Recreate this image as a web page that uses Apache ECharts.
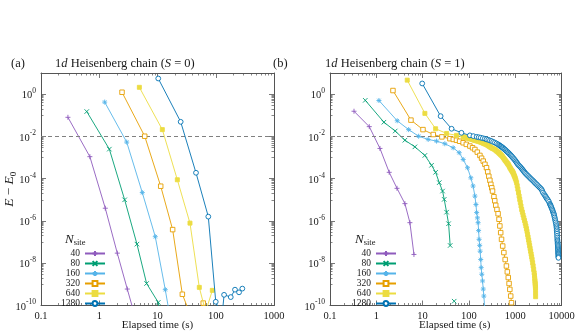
<!DOCTYPE html>
<html>
<head>
<meta charset="utf-8">
<script src="https://cdn.jsdelivr.net/npm/echarts@6/dist/echarts.min.js"></script>
<style>
html, body { margin: 0; background: #fff; }
#chart { width: 581px; height: 335px; }
</style>
</head>
<body>
<div id="chart"></div>
<script>
// system sizes shown in the legend
const nSites = ['40', '80', '160', '320', '640', '1280'];

// tick labels
const xTicksA = [0.1, 1, 10, 100, 1000];
const xTicksB = [0.1, 1, 10, 100, 1000, 10000];
const yTicks = [1e-10, 1e-8, 1e-6, 1e-4, 1e-2, 1];

// (a) S = 0 : elapsed time (s) and energy error
const tA40 = [0.29, 0.69, 1.27, 2.04, 3.03, 4.0];
const eA40 = [8e-2, 1.1e-3, 4e-6, 3e-8, 6e-10, 4e-11];
const tA80 = [0.61, 1.49, 2.73, 4.44, 6.5, 10.3, 12];
const eA80 = [1.5e-1, 2.5e-3, 1e-5, 8e-8, 1.1e-9, 1.4e-10, 1e-11];
const tA160 = [1.24, 2.96, 5.48, 9.16, 13.6, 17.5];
const eA160 = [4.2e-1, 5.4e-3, 2.2e-5, 1.8e-7, 5.6e-10, 1e-11];
const tA320 = [2.46, 6.03, 11.35, 18.2, 26.7, 40, 61];
const eA320 = [1.23, 1.02e-2, 4.4e-5, 3.9e-7, 3.4e-10, 2e-11, 1.3e-10];
const tA640 = [4.88, 12.1, 21.9, 36.1, 52.2, 67, 87.3];
const eA640 = [2.1, 2.1e-2, 8.9e-5, 7.9e-7, 7.2e-10, 5e-11, 5.2e-10];
const tA1280 = [10.3, 25, 45.8, 74.5, 100, 128, 139, 181, 214, 251, 286];
const eA1280 = [5.5, 4.9e-2, 1.9e-4, 1.6e-6, 1.5e-10, 3e-11, 3.2e-10, 2.5e-10, 5.6e-10, 4.2e-10, 6.3e-10];

// (b) S = 1
const tB40 = [0.33, 0.705, 1.2, 1.9, 2.8, 4.15, 5.32, 6.5];
const eB40 = [1.55e-1, 2.9e-2, 2.7e-3, 2e-4, 3.5e-5, 6.6e-6, 8.3e-7, 2.6e-8];
const tB80 = [0.578, 1.46, 2.56, 4.15, 6.82, 11.2, 15.6, 19.1, 22.9, 27.0, 29.3, 33.0, 36.4, 39.4, null, 48.1];
const eB80 = [0.51, 4.7e-2, 1.8e-2, 6.6e-3, 3.2e-3, 1.26e-3, 4.3e-4, 2.0e-4, 6.5e-5, 2.6e-5, 1.05e-5, 2.6e-6, 7.4e-7, 6.9e-8, null, 1.6e-10];
const tB160 = [1.14, 2.83, 4.99, 8.2, 13.2, 20, 30.2, 45.7, 61.7, 75.3, 93.3, 110, 123, 135, 142,
  147, 153, 158, 162, 166, 171, 175, 180, 184, 190, 197, 204, 210, 225];
const eB160 = [0.50, 5.5e-2, 2.1e-2, 1.02e-2, 7.2e-3, 6.0e-3, 4.5e-3, 2.9e-3, 1.7e-3, 8.1e-4, 3.3e-4, 1.1e-4, 4.5e-5, 1.5e-5, 6e-6,
  2.5e-6, 1.4e-6, 8.3e-7, 3.5e-7, 1.35e-7, 7e-8, 3.7e-8, 1.5e-8, 6.2e-9, 3e-9, 1.45e-9, 6e-10, 2.8e-10, 4e-11];
const tB320 = [2.29, 5.6, 10.2, 17, 26.1, 38.9, 46, 54, 63, 75, 88, 105, 120, 135, 152, 173, 188, 204, 222, 240, 255,
  269, 284, 298, 312, 324, 347, 362, 380, 403, 427, 447, 466, 486, 507, 537, 569, 607, 646, 676, 708, 737, 766, 800, 832];
const eB320 = [1.48, 5.9e-2, 2.1e-2, 1.23e-2, 9.5e-3, 7.8e-3, 7.2e-3, 6.6e-3, 5.9e-3, 5.0e-3, 4.2e-3, 3.5e-3, 2.9e-3, 2.4e-3, 1.8e-3, 1.26e-3, 9.3e-4, 6.8e-4, 4.8e-4, 3.3e-4, 2.1e-4,
  1.3e-4, 8.4e-5, 5.4e-5, 3.7e-5, 2.6e-5, 1.4e-5, 9e-6, 5.5e-6, 3.5e-6, 2.2e-6, 1.2e-6, 5.8e-7, 2.8e-7, 1.35e-7, 6.5e-8, 3.2e-8, 1.5e-8, 7.4e-9, 3.9e-9, 2.1e-9, 1.1e-9, 5.8e-10, 2.8e-10, 1.35e-10];
const tB640 = [4.66, 11.2, 19.1, 33, 54, 75, 80, 85, 90, 95, 100, 105, 111, 118, 125, 132, 139, 146, 153, 160,
  169, 178, 188, 198, 208, 218, 229, 240, 252, 265, 278, 292, 308, 325, 344, 363, 381, 400, 420, 440,
  457, 475, 490, 507, 533, 560, 585, 610, 635, 660, 684, 708, 734, 760, 787, 815, 842, 870, 891, 912,
  936, 960, 985, 1010, 1040, 1072, 1105, 1140, 1178, 1216, 1252, 1290, 1334, 1380, 1430, 1480, 1535, 1590, 1645, 1700,
  1750, 1800, 1850, 1900, 1950, 1995, 2050, 2100, 2155, 2210, 2265, 2320, 2380, 2440, 2505, 2570, 2610, 2640, 2670, 2690,
  2710, 2730, 2740, 2750, 2755, 2760];
const eB640 = [4.6, 0.123, 2.3e-2, 1.38e-2, 1.12e-2, 9.5e-3, 9.2e-3, 8.9e-3, 8.6e-3, 8.3e-3, 8.0e-3, 7.8e-3, 7.5e-3, 7.2e-3, 6.9e-3, 6.6e-3, 6.4e-3, 6.2e-3, 6.05e-3, 5.9e-3,
  5.65e-3, 5.4e-3, 5.15e-3, 4.9e-3, 4.7e-3, 4.5e-3, 4.3e-3, 4.1e-3, 3.85e-3, 3.6e-3, 3.35e-3, 3.1e-3, 2.9e-3, 2.7e-3, 2.55e-3, 2.4e-3, 2.2e-3, 2.0e-3, 1.85e-3, 1.7e-3,
  1.57e-3, 1.45e-3, 1.35e-3, 1.26e-3, 1.1e-3, 9.5e-4, 8.3e-4, 7.3e-4, 6.5e-4, 5.8e-4, 5.2e-4, 4.7e-4, 4.1e-4, 3.5e-4, 3.1e-4, 2.7e-4, 2.45e-4, 2.2e-4, 2.0e-4, 1.8e-4,
  1.55e-4, 1.35e-4, 1.17e-4, 1.0e-4, 8.2e-5, 6.5e-5, 4.6e-5, 3.2e-5, 2.2e-5, 1.5e-5, 1.05e-5, 7.5e-6, 5.1e-6, 3.5e-6, 2.6e-6, 1.9e-6, 1.4e-6, 1.05e-6, 7.8e-7, 5.8e-7,
  4.3e-7, 3.2e-7, 2.3e-7, 1.7e-7, 1.25e-7, 9.3e-8, 6.8e-8, 5.0e-8, 3.7e-8, 2.7e-8, 2.0e-8, 1.5e-8, 1.05e-8, 7.5e-9, 5.1e-9, 3.5e-9, 2.6e-9, 1.9e-9, 1.5e-9, 1.2e-9,
  1e-9, 8e-10, 7e-10, 6.3e-10, 4e-10, 2.6e-10];
const tB1280 = [9.8, 24.5, 42.3, 69, 105, 125, 147, 163, 180, 200, 221, 240, 262, 285, 309, 335, 365, 395, 427, 450,
  470, 490, 510, 530, 550, 575, 598, 625, 650, 680, 710, 740, 770, 800, 832, 870, 910, 950, 990, 1030,
  1070, 1110, 1148, 1200, 1260, 1320, 1380, 1440, 1500, 1560, 1622, 1710, 1800, 1900, 2000, 2100, 2200, 2330, 2455, 2580,
  2700, 2850, 3000, 3170, 3350, 3530, 3715, 3850, 3981, 4200, 4400, 4570, 4742, 4950, 5150, 5370, 5585, 5720, 5850, 6000,
  6150, 6300, 6450, 6600, 6761, 6880, 7000, 7120, 7250, 7380, 7500, 7630, 7762, 7810, 7860, 7900, 7950, 8000, 8040, 8085,
  8128, 8175, 8220, 8260, 8300, 8335, 8370, 8400, 8433, 8455, 8480, 8500, 8520, 8540, 8560, 8575, 8590];
const eB1280 = [3.2, 9.1e-2, 2.3e-2, 1.48e-2, 1.12e-2, 1.03e-2, 9.5e-3, 9.1e-3, 8.7e-3, 8.2e-3, 7.8e-3, 7.3e-3, 6.9e-3, 6.4e-3, 6.0e-3, 5.5e-3, 5.1e-3, 4.6e-3, 4.2e-3, 3.9e-3,
  3.6e-3, 3.4e-3, 3.2e-3, 3.0e-3, 2.8e-3, 2.6e-3, 2.4e-3, 2.2e-3, 2.0e-3, 1.85e-3, 1.7e-3, 1.55e-3, 1.4e-3, 1.28e-3, 1.17e-3, 1.05e-3, 9.3e-4, 8.4e-4, 7.5e-4, 6.6e-4,
  5.9e-4, 5.3e-4, 4.7e-4, 4.2e-4, 3.8e-4, 3.4e-4, 3.0e-4, 2.7e-4, 2.4e-4, 2.15e-4, 1.9e-4, 1.7e-4, 1.5e-4, 1.35e-4, 1.2e-4, 1.08e-4, 9.7e-5, 8.7e-5, 7.8e-5, 7.0e-5,
  6.2e-5, 5.6e-5, 5.0e-5, 4.4e-5, 3.9e-5, 3.5e-5, 3.1e-5, 2.6e-5, 2.2e-5, 1.85e-5, 1.6e-5, 1.4e-5, 1.2e-5, 1.07e-5, 9.5e-6, 8e-6, 6.5e-6, 5.8e-6, 5.2e-6, 4.6e-6,
  4e-6, 3.5e-6, 3e-6, 2.6e-6, 2.3e-6, 2e-6, 1.7e-6, 1.45e-6, 1.2e-6, 1e-6, 8.5e-7, 7e-7, 5.8e-7, 5e-7, 4.2e-7, 3.6e-7, 3e-7, 2.5e-7, 2e-7, 1.65e-7,
  1.35e-7, 1.15e-7, 1e-7, 8.7e-8, 7.5e-8, 6.6e-8, 5.8e-8, 5.1e-8, 4.5e-8, 4e-8, 3.5e-8, 3.1e-8, 2.8e-8, 2.5e-8, 2.2e-8, 2e-8, 1.8e-8];

const threshold = 1e-2;

const FONT = 'Liberation Serif';
const INK = '#1a1a1a';
const FRAME = '#555';
const colors = ['#8f5bbd', '#009e73', '#56b4e9', '#e69f00', '#ecdc42', '#0072b2'];
// +, x, *, open square, filled square, open circle
const symbols = [
  'path://M5 0L5 10M0 5L10 5',
  'path://M0 0L10 10M10 0L0 10',
  'path://M5 0L5 10M0 5L10 5M1.5 1.5L8.5 8.5M8.5 1.5L1.5 8.5',
  'path://M0 0L10 0L10 10L0 10Z',
  'rect',
  'path://M5 0A5 5 0 1 1 4.99 0Z'
];
const symbolSizes = [5, 4.5, 5, 4.5, 4, 4.8];
const hollow = [false, false, false, true, false, true];

function pts(t, e) {
  return t.map((x, i) => x == null ? ['-', '-'] : [x, e[i]]);
}

function minorX(major, max) {
  const out = [];
  major.forEach(d => { for (let k = 2; k <= 9; k++) if (k * d < max) out.push(k * d); });
  return out;
}
function minorY(major) {
  const out = [];
  major.forEach(d => { if (d > 1e-10) for (let k = 1; k <= 9; k++) out.push(k * d / 10); });
  return out;
}

function expLabel(v) {
  const e = Math.round(Math.log10(v));
  return '{b|10}{e|' + (e < 0 ? '-' : '') + Math.abs(e) + '}';
}

function logAxis(o) {
  return Object.assign({
    type: 'log', logBase: 10,
    splitLine: { show: false },
    minorTick: { show: false },
    axisLine: { show: true, onZero: false, lineStyle: { color: FRAME, width: 1 } },
    axisTick: { show: true, inside: true, length: 5, lineStyle: { color: FRAME, width: 0.8 } },
    axisLabel: { show: false }
  }, o);
}
function minorAxis(o, vals) {
  return logAxis(Object.assign({
    axisLine: { show: false },
    axisTick: { show: true, inside: true, length: 2.5, customValues: vals, lineStyle: { color: FRAME, width: 0.7 } }
  }, o));
}

const xLabelStyle = { show: true, margin: 5, fontFamily: FONT, fontSize: 10.5, color: INK,
  formatter: v => String(+v.toPrecision(2)) };
const yLabelStyle = { show: true, margin: 5, customValues: yTicks, formatter: expLabel,
  rich: {
    b: { fontFamily: FONT, fontSize: 10.5, color: INK, lineHeight: 14, verticalAlign: 'bottom' },
    e: { fontFamily: FONT, fontSize: 7.5, color: INK, lineHeight: 8, verticalAlign: 'top' }
  } };
const xName = {
  name: 'Elapsed time (s)', nameLocation: 'middle', nameGap: 14, nameMoveOverlap: false,
  nameTextStyle: { fontFamily: FONT, fontSize: 11, color: INK }
};

const gridA = { left: 41, right: 307, top: 73, bottom: 29.5, outerBoundsMode: 'none', containLabel: false };
const gridB = { left: 330, right: 19.5, top: 73, bottom: 29.5, outerBoundsMode: 'none', containLabel: false };

const xAxis = [
  logAxis(Object.assign({ gridIndex: 0, position: 'bottom', min: 0.1, max: 1000,
    axisTick: { show: true, inside: true, length: 5, customValues: xTicksA, lineStyle: { color: FRAME, width: 0.8 } },
    axisLabel: Object.assign({ customValues: xTicksA }, xLabelStyle) }, xName)),
  logAxis({ gridIndex: 0, position: 'top', min: 0.1, max: 1000,
    axisTick: { show: true, inside: true, length: 5, customValues: xTicksA, lineStyle: { color: FRAME, width: 0.8 } } }),
  logAxis(Object.assign({ gridIndex: 1, position: 'bottom', min: 0.1, max: 10000,
    axisTick: { show: true, inside: true, length: 5, customValues: xTicksB, lineStyle: { color: FRAME, width: 0.8 } },
    axisLabel: Object.assign({ customValues: xTicksB }, xLabelStyle) }, xName,
    { nameTextStyle: { fontFamily: FONT, fontSize: 11, color: INK, padding: [0, 0, 0, 18] } })),
  logAxis({ gridIndex: 1, position: 'top', min: 0.1, max: 10000,
    axisTick: { show: true, inside: true, length: 5, customValues: xTicksB, lineStyle: { color: FRAME, width: 0.8 } } }),
  minorAxis({ gridIndex: 2, position: 'bottom', min: 0.1, max: 1000 }, minorX(xTicksA, 1000)),
  minorAxis({ gridIndex: 2, position: 'top', min: 0.1, max: 1000 }, minorX(xTicksA, 1000)),
  minorAxis({ gridIndex: 3, position: 'bottom', min: 0.1, max: 10000 }, minorX(xTicksB, 10000)),
  minorAxis({ gridIndex: 3, position: 'top', min: 0.1, max: 10000 }, minorX(xTicksB, 10000))
];

const yMajorTick = { show: true, inside: true, length: 5, customValues: yTicks, lineStyle: { color: FRAME, width: 0.8 } };
const yAxis = [
  logAxis({ gridIndex: 0, position: 'left', min: 1e-10, max: 10, axisTick: yMajorTick, axisLabel: yLabelStyle,
    name: '{i|E} − {i|E}{s|0}', nameLocation: 'middle', nameRotate: 90, nameGap: 23, nameMoveOverlap: false,
    nameTextStyle: { fontFamily: FONT, fontSize: 13, color: INK,
      rich: {
        i: { fontFamily: FONT, fontStyle: 'italic', fontSize: 13.5, color: INK, lineHeight: 16, verticalAlign: 'top' },
        s: { fontFamily: FONT, fontSize: 9, color: INK, lineHeight: 9, verticalAlign: 'bottom' }
      } } }),
  logAxis({ gridIndex: 0, position: 'right', min: 1e-10, max: 10, axisTick: yMajorTick }),
  logAxis({ gridIndex: 1, position: 'left', min: 1e-10, max: 10, axisTick: yMajorTick, axisLabel: yLabelStyle }),
  logAxis({ gridIndex: 1, position: 'right', min: 1e-10, max: 10, axisTick: yMajorTick }),
  minorAxis({ gridIndex: 2, position: 'left', min: 1e-10, max: 10 }, minorY(yTicks)),
  minorAxis({ gridIndex: 2, position: 'right', min: 1e-10, max: 10 }, minorY(yTicks)),
  minorAxis({ gridIndex: 3, position: 'left', min: 1e-10, max: 10 }, minorY(yTicks)),
  minorAxis({ gridIndex: 3, position: 'right', min: 1e-10, max: 10 }, minorY(yTicks))
];

const panelA = [[tA40, eA40], [tA80, eA80], [tA160, eA160], [tA320, eA320], [tA640, eA640], [tA1280, eA1280]];
const panelB = [[tB40, eB40], [tB80, eB80], [tB160, eB160], [tB320, eB320], [tB640, eB640], [tB1280, eB1280]];

const dashed = {
  silent: true, symbol: 'none', label: { show: false },
  lineStyle: { type: [4, 3], color: '#808080', width: 1 },
  data: [{ yAxis: threshold }]
};

const series = [];
[panelA, panelB].forEach((panel, p) => {
  panel.forEach((d, i) => {
    const c = colors[i];
    const s = {
      name: nSites[i], type: 'line',
      xAxisIndex: p * 2, yAxisIndex: p * 2,
      data: pts(d[0], d[1]),
      symbol: symbols[i], symbolSize: symbolSizes[i],
      showAllSymbol: true, connectNulls: false, clip: true,
      lineStyle: { color: c, width: 0.9 },
      itemStyle: { color: hollow[i] ? '#fff' : c, borderColor: c, borderWidth: 0.9 },
      emphasis: { disabled: true },
      z: 3 + i
    };
    if (i === 0) s.markLine = dashed;
    series.push(s);
  });
});

const legendBase = {
  data: nSites, orient: 'vertical', align: 'right', top: 248.5,
  itemWidth: 20, itemHeight: 6, itemGap: 0, padding: 0,
  textStyle: { fontFamily: FONT, fontSize: 9.5, color: INK, lineHeight: 8.2 }
};

const titleText = { fontFamily: FONT, fontSize: 12.5, fontWeight: 'normal', color: INK,
  rich: { i: { fontFamily: FONT, fontStyle: 'italic', fontSize: 12.5, color: INK } } };
const nsiteText = { fontFamily: FONT, fontWeight: 'normal', color: INK,
  rich: {
    n: { fontFamily: FONT, fontStyle: 'italic', fontSize: 13, color: INK, lineHeight: 14, verticalAlign: 'top' },
    s: { fontFamily: FONT, fontSize: 8.5, color: INK, lineHeight: 9, verticalAlign: 'bottom' }
  } };

const option = {
  animation: false,
  backgroundColor: '#fff',
  textStyle: { fontFamily: FONT },
  title: [
    { text: '(a)', left: 11, top: 57, padding: 0, textStyle: titleText },
    { text: '1{i|d} Heisenberg chain ({i|S} = 0)', left: 55, top: 57, padding: 0, textStyle: titleText },
    { text: '(b)', left: 273, top: 57, padding: 0, textStyle: titleText },
    { text: '1{i|d} Heisenberg chain ({i|S} = 1)', left: 325, top: 57, padding: 0, textStyle: titleText },
    { text: '{n|N}{s|site}', left: 65, top: 233, padding: 0, textStyle: nsiteText },
    { text: '{n|N}{s|site}', left: 355, top: 233, padding: 0, textStyle: nsiteText }
  ],
  legend: [
    Object.assign({ right: 475 }, legendBase),
    Object.assign({ right: 184 }, legendBase)
  ],
  grid: [gridA, gridB, Object.assign({}, gridA), Object.assign({}, gridB)],
  xAxis: xAxis,
  yAxis: yAxis,
  series: series
};

const chart = echarts.init(document.getElementById('chart'), null, { renderer: 'canvas' });
chart.setOption(option);
</script>
</body>
</html>
